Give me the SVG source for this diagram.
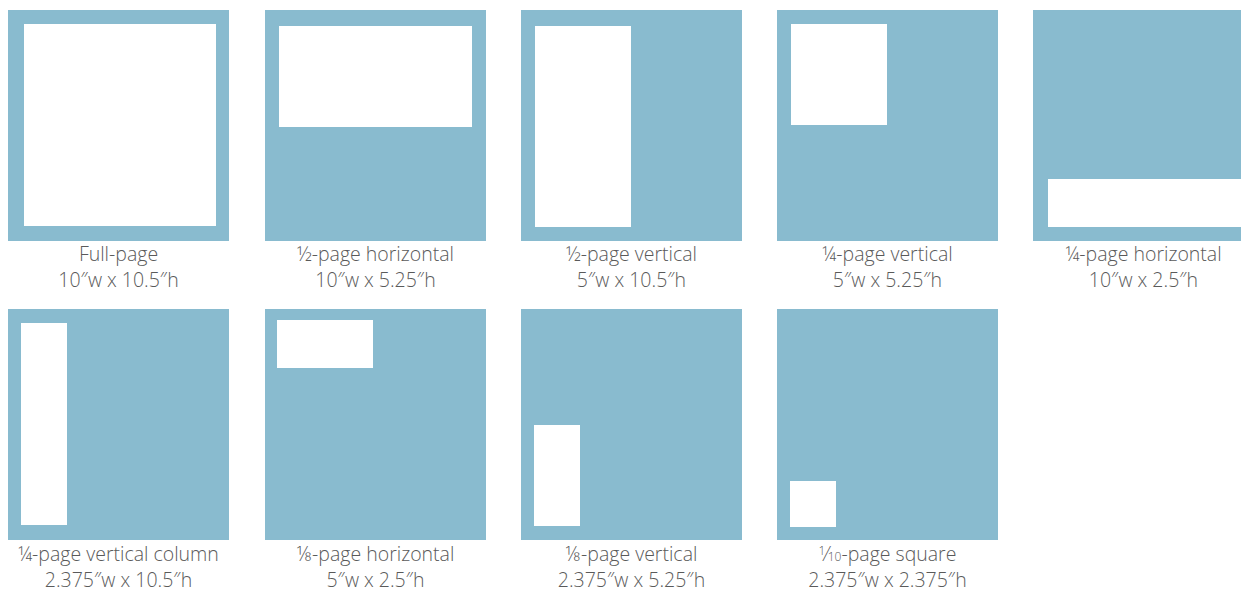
<svg xmlns="http://www.w3.org/2000/svg" width="1241" height="591" viewBox="0 0 1241 591">
<style>
.bg{fill:#89bbcf}
.ad{fill:#ffffff}
.lbl{font-family:"Open Sans","Liberation Sans",sans-serif;font-size:19.5px;font-weight:300;fill:#5a5a5a;text-anchor:middle}
.fr{font-size:12px}
</style>
<rect width="1241" height="591" fill="#ffffff"/>
<g id="full-page">
<rect class="bg" x="8" y="10" width="221" height="231"/>
<rect class="ad" x="24" y="24" width="192" height="202"/>
<text class="lbl" x="118.5" y="261">Full-page</text>
<text class="lbl" x="118.5" y="287">10″w x 10.5″h</text>
</g>
<g id="half-horizontal">
<rect class="bg" x="265" y="10" width="221" height="231"/>
<rect class="ad" x="279" y="26" width="193" height="101"/>
<text class="lbl" x="375.5" y="261">½-page horizontal</text>
<text class="lbl" x="375.5" y="287">10″w x 5.25″h</text>
</g>
<g id="half-vertical">
<rect class="bg" x="521" y="10" width="221" height="231"/>
<rect class="ad" x="535" y="26" width="96" height="201"/>
<text class="lbl" x="631.5" y="261">½-page vertical</text>
<text class="lbl" x="631.5" y="287">5″w x 10.5″h</text>
</g>
<g id="quarter-vertical">
<rect class="bg" x="777" y="10" width="221" height="231"/>
<rect class="ad" x="791" y="24" width="96" height="101"/>
<text class="lbl" x="887.5" y="261">¼-page vertical</text>
<text class="lbl" x="887.5" y="287">5″w x 5.25″h</text>
</g>
<g id="quarter-horizontal">
<rect class="bg" x="1033" y="10" width="221" height="231"/>
<rect class="ad" x="1048" y="179" width="193" height="48"/>
<text class="lbl" x="1143.5" y="261">¼-page horizontal</text>
<text class="lbl" x="1143.5" y="287">10″w x 2.5″h</text>
</g>
<g id="quarter-vertical-column">
<rect class="bg" x="8" y="309" width="221" height="231"/>
<rect class="ad" x="21" y="323" width="46" height="202"/>
<text class="lbl" x="118.5" y="561">¼-page vertical column</text>
<text class="lbl" x="118.5" y="587">2.375″w x 10.5″h</text>
</g>
<g id="eighth-horizontal">
<rect class="bg" x="265" y="309" width="221" height="231"/>
<rect class="ad" x="277" y="320" width="96" height="48"/>
<text class="lbl" x="375.5" y="561">⅛-page horizontal</text>
<text class="lbl" x="375.5" y="587">5″w x 2.5″h</text>
</g>
<g id="eighth-vertical">
<rect class="bg" x="521" y="309" width="221" height="231"/>
<rect class="ad" x="534" y="425" width="46" height="101"/>
<text class="lbl" x="631.5" y="561">⅛-page vertical</text>
<text class="lbl" x="631.5" y="587">2.375″w x 5.25″h</text>
</g>
<g id="tenth-square">
<rect class="bg" x="777" y="309" width="221" height="231"/>
<rect class="ad" x="790" y="481" width="46" height="46"/>
<text class="lbl" x="887.5" y="561"><tspan class="fr" dy="-6">1</tspan><tspan dy="6">⁄</tspan><tspan class="fr">10</tspan>-page square</text>
<text class="lbl" x="887.5" y="587">2.375″w x 2.375″h</text>
</g>
<g id="connectors"/>
</svg>
